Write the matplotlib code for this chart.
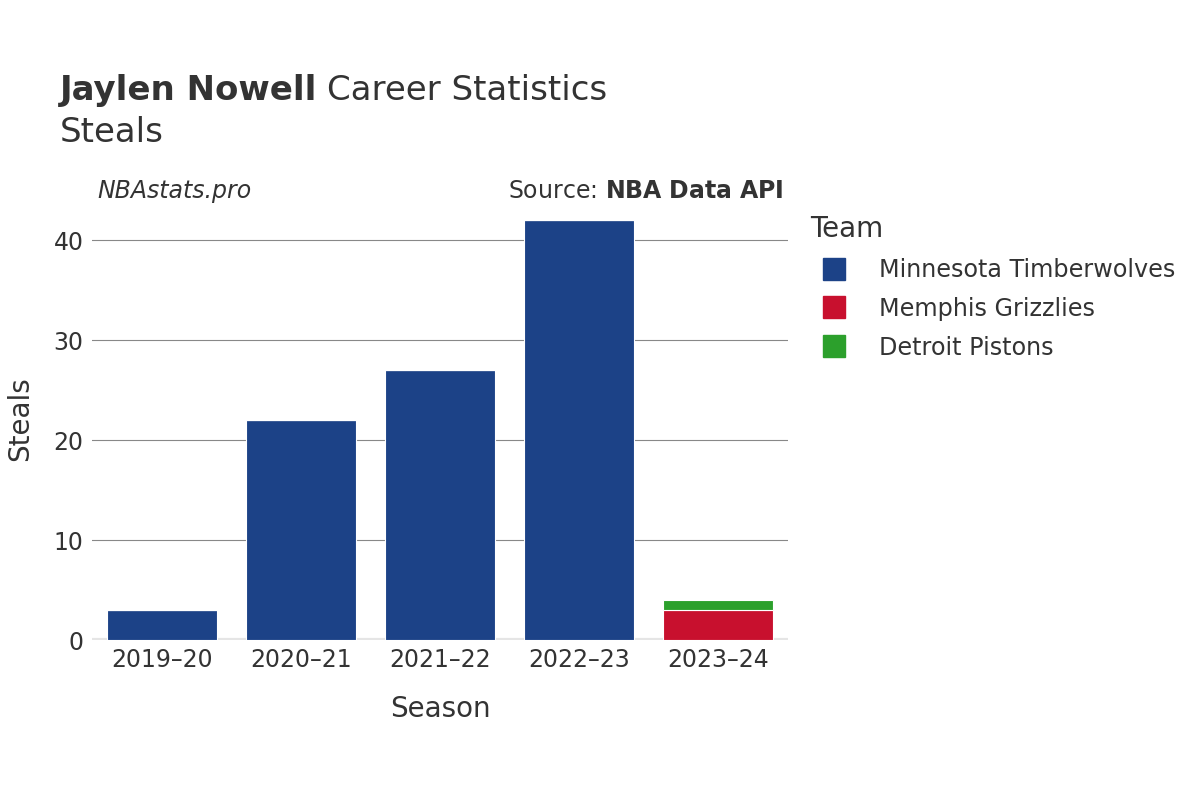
import matplotlib
matplotlib.use("Agg")
import matplotlib.pyplot as plt
from matplotlib.lines import Line2D

plt.rcParams["font.family"] = "DejaVu Sans"

seasons = ["2019–20", "2020–21", "2021–22", "2022–23", "2023–24"]
teams = ["Minnesota Timberwolves", "Memphis Grizzlies", "Detroit Pistons"]
colors = ["#1c4287", "#c8102e", "#2ca02c"]
min_vals = [3, 22, 27, 42, 0]
mem_vals = [0, 0, 0, 0, 3]
det_vals = [0, 0, 0, 0, 1]
series = [min_vals, mem_vals, det_vals]

fig = plt.figure(figsize=(12, 8), dpi=100)
ax = fig.add_axes([0.0767, 0.2, 0.58, 0.5525])
x = range(len(seasons))
bottom = [0] * len(seasons)
for vals, c in zip(series, colors):
    ax.bar(x, vals, bottom=bottom, width=0.79, color=c, edgecolor="white", linewidth=0.8, zorder=3)
    bottom = [b + v for b, v in zip(bottom, vals)]

ax.set_xlim(-0.5, 4.5)
ax.set_ylim(0, 44.2)
ax.set_yticks([0, 10, 20, 30, 40])
ax.set_xticks(list(x))
ax.set_xticklabels(seasons)
ax.grid(axis="y", color="#888888", linewidth=0.8, zorder=0)
ax.axhline(0, color="#e5e5e5", linewidth=3, zorder=2)
for s in ax.spines.values():
    s.set_visible(False)
ax.tick_params(length=0, labelsize=17, labelcolor="#333333", pad=6)
ax.set_xlabel("Season", fontsize=20, color="#333333", labelpad=16)
ax.set_ylabel("Steals", fontsize=20, color="#333333", labelpad=14)

t1 = fig.text(0.05, 0.875, "Jaylen Nowell", fontsize=24.5, fontweight="bold", color="#333333", va="baseline")
fig.canvas.draw()
bb = t1.get_window_extent()
fig.text(bb.x1 / 1200 + 0.008, 0.875, "Career Statistics", fontsize=24.5, color="#333333", va="baseline")
fig.text(0.05, 0.822, "Steals", fontsize=24.5, color="#333333", va="baseline")
fig.text(0.081, 0.752, "NBAstats.pro", fontsize=17, style="italic", color="#333333", va="baseline")
fig.text(0.653, 0.752, "Source: $\\bf{NBA\\ Data\\ API}$", fontsize=17, color="#333333", va="baseline", ha="right")

handles = [Line2D([0], [0], marker="s", linestyle="", markersize=16, markerfacecolor=c, markeredgecolor=c) for c in colors]
leg = fig.legend(handles, teams, loc="upper left", bbox_to_anchor=(0.657, 0.758), frameon=False,
                 title="Team", fontsize=17.2, title_fontsize=20, labelspacing=0.62, handletextpad=0.9,
                 labelcolor="#333333")
leg.get_title().set_color("#333333")
leg._legend_box.align = "left"
fig.savefig("out.png")
